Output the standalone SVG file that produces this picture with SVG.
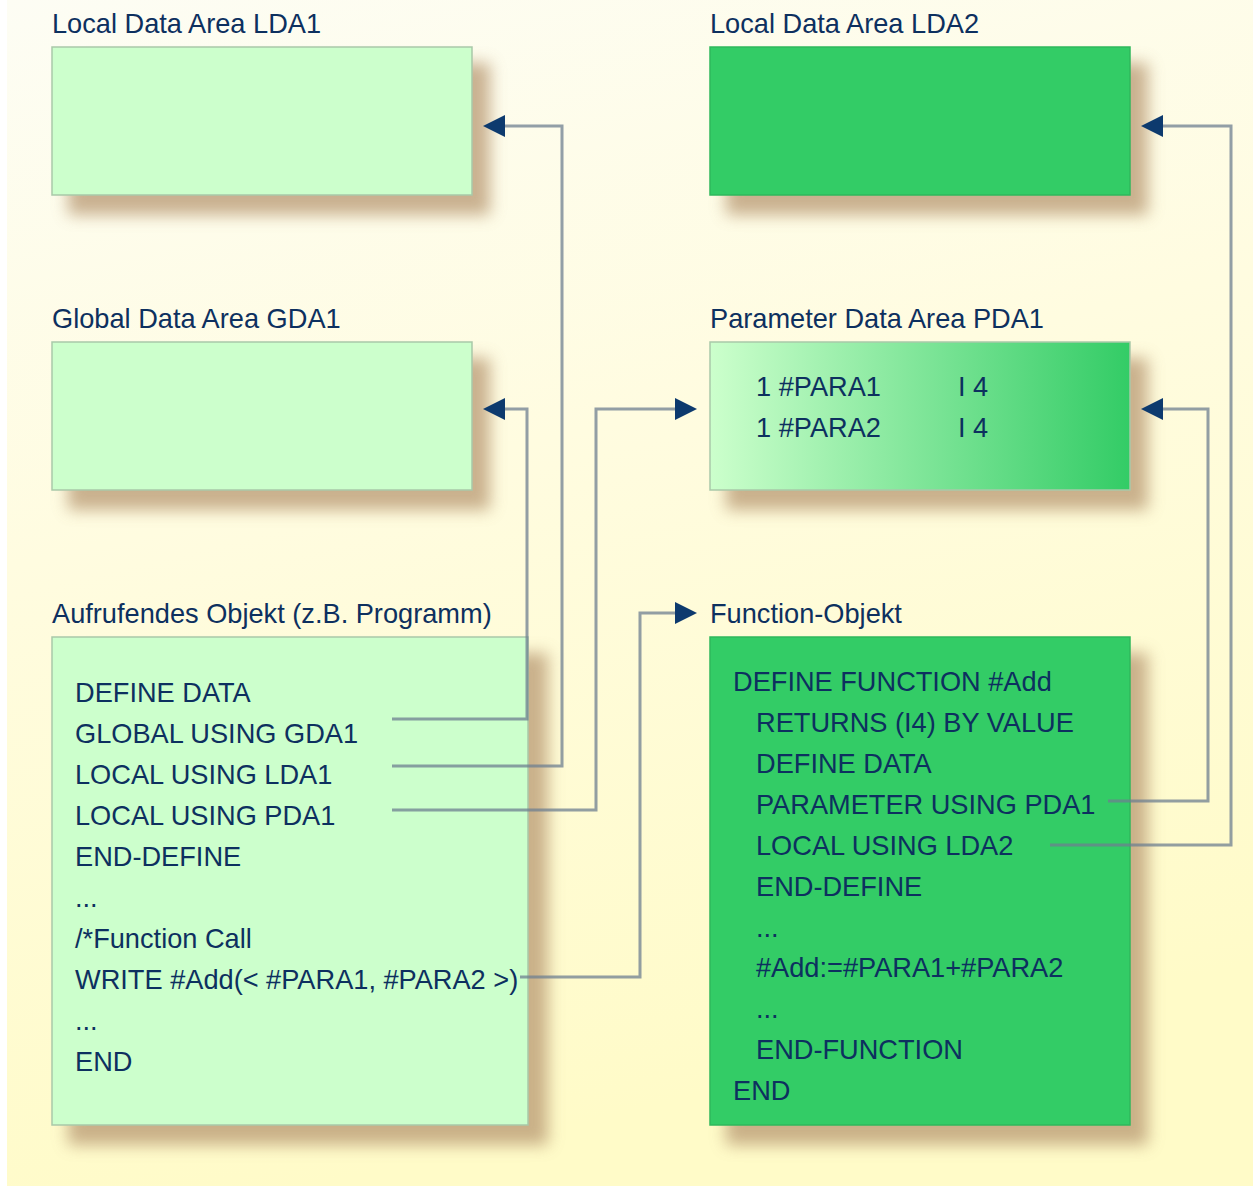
<svg xmlns="http://www.w3.org/2000/svg" width="1253" height="1188" viewBox="0 0 1253 1188">
<defs>
<linearGradient id="bg" x1="0" y1="0" x2="0.25" y2="1">
<stop offset="0" stop-color="#fdfdf4"/>
<stop offset="0.45" stop-color="#fffce0"/>
<stop offset="1" stop-color="#fffbc8"/>
</linearGradient>
<linearGradient id="pda" x1="0" y1="0" x2="1" y2="0">
<stop offset="0" stop-color="#ccffcc"/>
<stop offset="1" stop-color="#33cc66"/>
</linearGradient>
<filter id="sh" x="-20%" y="-20%" width="150%" height="160%">
<feGaussianBlur stdDeviation="8"/>
</filter>
<style>
text{font-family:"Liberation Sans",Arial,sans-serif;font-size:27.2px;fill:#0d305f}
.shadow{fill:#b89872;opacity:0.75;filter:url(#sh)}
.light{fill:#ccffcc;stroke:#a9c9a9;stroke-width:1.5}
.dark{fill:#33cc66;stroke:#2fb85c;stroke-width:1.5}
.grad{fill:url(#pda);stroke:#a9c9a9;stroke-width:1.5}
.conn{fill:none;stroke:#6d7f90;stroke-opacity:0.75;stroke-width:3}
.head{fill:#0d3a6e}
</style>
</defs>
<rect x="0" y="0" width="1253" height="1188" fill="#ffffff"/>
<rect x="7" y="0" width="1246" height="1186" fill="url(#bg)"/>

<g id="lda1">
<rect class="shadow" x="68" y="63" width="422" height="152"/>
<rect class="light" x="52" y="47" width="420" height="148"/>
<text x="52" y="33">Local Data Area LDA1</text>
</g>
<g id="lda2">
<rect class="shadow" x="726" y="63" width="422" height="152"/>
<rect class="dark" x="710" y="47" width="420" height="148"/>
<text x="710" y="33">Local Data Area LDA2</text>
</g>
<g id="gda1">
<rect class="shadow" x="68" y="358" width="422" height="152"/>
<rect class="light" x="52" y="342" width="420" height="148"/>
<text x="52" y="328">Global Data Area GDA1</text>
</g>
<g id="pda1">
<rect class="shadow" x="726" y="358" width="422" height="152"/>
<rect class="grad" x="710" y="342" width="420" height="148"/>
<text x="710" y="328">Parameter Data Area PDA1</text>
<text x="756" y="396">1 #PARA1</text>
<text x="958" y="396">I 4</text>
<text x="756" y="437">1 #PARA2</text>
<text x="958" y="437">I 4</text>
</g>
<g id="caller">
<rect class="shadow" x="68" y="653" width="480" height="492"/>
<rect class="light" x="52" y="637" width="476" height="488"/>
<text x="52" y="623">Aufrufendes Objekt (z.B. Programm)</text>
<text x="75" y="702">DEFINE DATA</text>
<text x="75" y="743">GLOBAL USING GDA1</text>
<text x="75" y="784">LOCAL USING LDA1</text>
<text x="75" y="825">LOCAL USING PDA1</text>
<text x="75" y="866">END-DEFINE</text>
<text x="75" y="907">...</text>
<text x="75" y="948">/*Function Call</text>
<text x="75" y="989">WRITE #Add(&lt; #PARA1, #PARA2 &gt;)</text>
<text x="75" y="1030">...</text>
<text x="75" y="1071">END</text>
</g>
<g id="function">
<rect class="shadow" x="726" y="653" width="422" height="492"/>
<rect class="dark" x="710" y="637" width="420" height="488"/>
<text x="710" y="623">Function-Objekt</text>
<text x="733" y="691">DEFINE FUNCTION #Add</text>
<text x="756" y="732">RETURNS (I4) BY VALUE</text>
<text x="756" y="773">DEFINE DATA</text>
<text x="756" y="814">PARAMETER USING PDA1</text>
<text x="756" y="855">LOCAL USING LDA2</text>
<text x="756" y="896">END-DEFINE</text>
<text x="756" y="937">...</text>
<text x="756" y="977">#Add:=#PARA1+#PARA2</text>
<text x="756" y="1018">...</text>
<text x="756" y="1059">END-FUNCTION</text>
<text x="733" y="1100">END</text>
</g>

<g id="connectors">
<polyline class="conn" points="392,719 527,719 527,409 505,409"/>
<polyline class="conn" points="392,766 562,766 562,126 505,126"/>
<polyline class="conn" points="392,810 596,810 596,409 676,409"/>
<polyline class="conn" points="520,977 640,977 640,613 676,613"/>
<polyline class="conn" points="1108,801 1208,801 1208,409 1163,409"/>
<polyline class="conn" points="1050,845 1231,845 1231,126 1163,126"/>
<path class="head" d="M505,398 L483,409 L505,420 Z"/>
<path class="head" d="M505,115 L483,126 L505,137 Z"/>
<path class="head" d="M675,398 L697,409 L675,420 Z"/>
<path class="head" d="M675,602 L697,613 L675,624 Z"/>
<path class="head" d="M1163,398 L1141,409 L1163,420 Z"/>
<path class="head" d="M1163,115 L1141,126 L1163,137 Z"/>
</g>
</svg>
